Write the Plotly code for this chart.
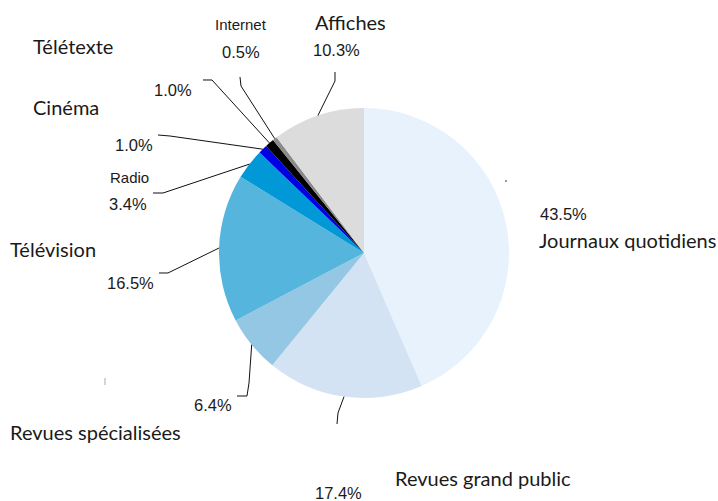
import math
import plotly.graph_objects as go

# ---- data ----
categories = ["Journaux quotidiens", "Revues grand public", "Revues spécialisées",
              "Télévision", "Radio", "Cinéma", "Télétexte", "Internet", "Affiches"]
shares = [43.5, 17.4, 6.4, 16.5, 3.4, 1.0, 1.0, 0.5, 10.3]
pct_labels = ["43.5%", "17.4%", "6.4%", "16.5%", "3.4%", "1.0%", "1.0%", "0.5%", "10.3%"]
colors = ["#e8f2fd", "#d4e3f3", "#94c7e4", "#56b5dc", "#0098d6",
          "#0000e4", "#000000", "#8a8a8a", "#dcdcdc"]

W, H = 718, 501
CX, CY, R = 364, 253, 145  # pie centre / radius in pixels


def px(x, y):
    return x / W, 1 - y / H


fig = go.Figure(go.Pie(
    labels=categories, values=shares, sort=False, direction="clockwise",
    rotation=0, textinfo="none", hoverinfo="label+percent",
    marker=dict(colors=colors, line=dict(width=0)),
    domain=dict(x=[(CX - R) / W, (CX + R) / W], y=[1 - (CY + R) / H, 1 - (CY - R) / H]),
    showlegend=False,
))

LBL = dict(family="Lato, Futura, sans-serif", size=20, color="#1a1a1a", weight=400)
PCT = dict(family="Liberation Sans, Arial, sans-serif", size=16.5, color="#1a1a1a", weight=400)
SML = dict(family="Liberation Sans, Arial, sans-serif", size=15, color="#1a1a1a", weight=400)

# label placement: (name x, name y, anchor, font) ; (pct x, pct y, anchor)
label_pos = {
    "Journaux quotidiens": ((537, 240, "left", LBL), (538, 214, "left")),
    "Revues grand public": ((393, 478, "left", LBL), (364, 493, "right")),
    "Revues spécialisées": ((8, 432, "left", LBL), (234, 405, "right")),
    "Télévision": ((8, 249, "left", LBL), (156, 283, "right")),
    "Radio": ((108, 177, "left", SML), (149, 204, "right")),
    "Cinéma": ((31, 107, "left", LBL), (155, 145, "right")),
    "Télétexte": ((31, 46, "left", LBL), (194, 90, "right")),
    "Internet": ((241, 25, "center", SML), (241, 52, "center")),
    "Affiches": ((350, 22, "center", LBL), (336, 50, "center")),
}

# leader line bend/end points (pixels), the start is computed on the pie edge
leader_bends = {
    "Revues grand public": [(338, 413), (337, 424)],
    "Revues spécialisées": [(249, 383), (247, 396), (237, 396)],
    "Télévision": [(168, 273), (159, 273)],
    "Radio": [(163, 193), (153, 193)],
    "Cinéma": [(170, 136), (158, 135)],
    "Télétexte": [(212, 80), (203, 80)],
    "Internet": [(241, 86), (240, 77)],
    "Affiches": [(335, 81), (335, 72)],
}

annotations = []
shapes = []
cum = 0.0
total = sum(shares)
for cat, val, pct in zip(categories, shares, pct_labels):
    mid = (cum + val / 2) / total * 2 * math.pi
    cum += val
    (nx, ny, na, nf), (qx, qy, qa) = label_pos[cat]
    x, y = px(nx, ny)
    annotations.append(dict(text=cat, x=x, y=y, xref="paper", yref="paper",
                            xanchor=na, yanchor="middle", showarrow=False, font=nf))
    x, y = px(qx, qy)
    annotations.append(dict(text=pct, x=x, y=y, xref="paper", yref="paper",
                            xanchor=qa, yanchor="middle", showarrow=False, font=PCT))
    if cat in leader_bends:
        sx = CX + R * math.sin(mid)
        sy = CY - R * math.cos(mid)
        pts = [(sx, sy)] + leader_bends[cat]
        path = "M " + " L ".join("%.5f,%.5f" % px(a, b) for a, b in pts)
        shapes.append(dict(type="path", path=path, xref="paper", yref="paper",
                           line=dict(color="#111", width=1)))

# small stray marks present in the original
for (a, b, c, d, col) in [(506, 180, 506, 182, "#333"), (105, 378, 105, 385, "#aaa")]:
    x0, y0 = px(a, b)
    x1, y1 = px(c, d)
    shapes.append(dict(type="line", x0=x0, y0=y0, x1=x1, y1=y1, xref="paper", yref="paper",
                       line=dict(color=col, width=1)))

fig.update_layout(
    width=W, height=H, margin=dict(l=0, r=0, t=0, b=0),
    paper_bgcolor="white", plot_bgcolor="white",
    annotations=annotations, shapes=shapes,
)

fig.write_html("out.html")
